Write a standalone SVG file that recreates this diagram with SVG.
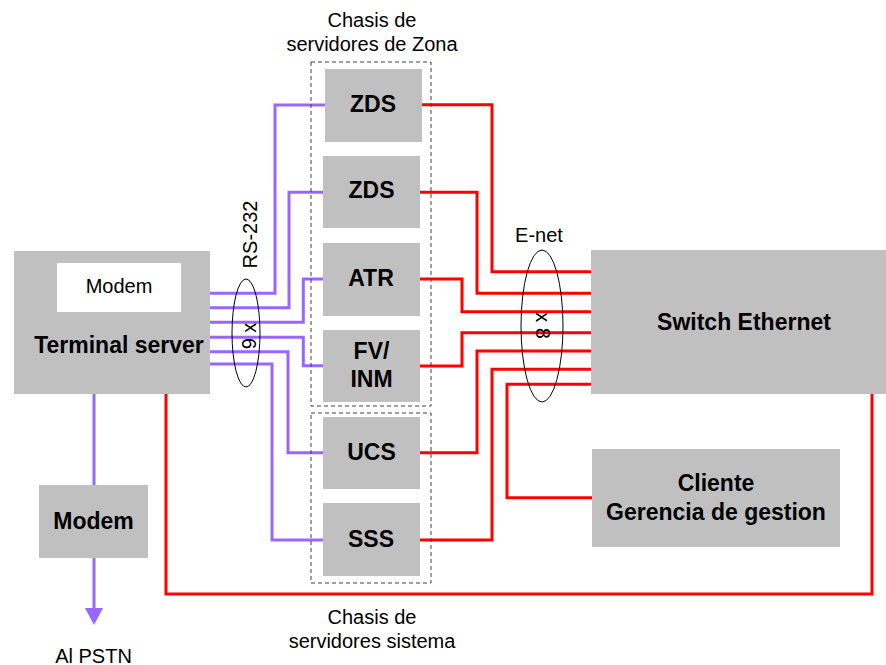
<svg xmlns="http://www.w3.org/2000/svg" width="886" height="665" viewBox="0 0 886 665">
<style>
.box{fill:#c0c0c0;stroke:none}
.chassis{fill:none;stroke:#404040;stroke-width:1;stroke-dasharray:4 3}
.p{fill:none;stroke:#9966ff;stroke-width:3}
.r{fill:none;stroke:#ff0000;stroke-width:3}
.ell{fill:none;stroke:#000;stroke-width:1}
.t{font-family:"Liberation Sans",Arial,sans-serif;font-size:20px;fill:#000;text-anchor:middle}
.b{font-family:"Liberation Sans",Arial,sans-serif;font-size:23px;font-weight:bold;fill:#000;text-anchor:middle}
</style>
<rect width="886" height="665" fill="#fff"/>
<g id="connectors">
<path class="p" d="M210,293.3 H275 V105 H325"/>
<path class="p" d="M210,307.7 H289 V192.3 H323"/>
<path class="p" d="M210,322.3 H303.3 V279 H323"/>
<path class="p" d="M210,337.3 H303.3 V365.7 H323"/>
<path class="p" d="M210,351.7 H288 V452.7 H323"/>
<path class="p" d="M210,364 H272 V540 H323"/>
<path class="p" d="M94,394 V485"/>
<path class="p" d="M94,558 V609"/>
<polygon points="85,608 103,608 94,625" fill="#9966ff"/>
<path class="r" d="M421,104.7 H492 V271.7 H592"/>
<path class="r" d="M420,192.3 H477 V293.3 H592"/>
<path class="r" d="M420,279 H462 V311.7 H592"/>
<path class="r" d="M420,366 H462 V332.7 H592"/>
<path class="r" d="M420,452.7 H477 V351 H592"/>
<path class="r" d="M420,540 H492 V369.3 H592"/>
<path class="r" d="M592,497.7 H507 V384.3 H592"/>
<path class="r" d="M166,394 V594 H872 V394"/>
<ellipse class="ell" cx="246" cy="333" rx="14" ry="54"/>
<ellipse class="ell" cx="542" cy="326" rx="21" ry="76"/>
<text class="t" transform="translate(257,234.5) rotate(-90)">RS-232</text>
<text class="t" transform="translate(256,336) rotate(-90)">9 x</text>
<text class="t" transform="translate(536,325.5) rotate(90)">x 8</text>
<text class="t" x="539" y="241.5">E-net</text>
</g>
<g id="terminal-server">
<rect class="box" x="14" y="251" width="196" height="143"/>
<rect x="57" y="263" width="124" height="49" fill="#fff"/>
<text class="t" x="119" y="293.3">Modem</text>
<text class="b" x="119" y="353.3">Terminal server</text>
</g>
<g id="modem">
<rect class="box" x="39" y="485" width="109" height="73"/>
<text class="b" x="93.5" y="529">Modem</text>
</g>
<g id="pstn">
<text class="t" x="93.5" y="662.5">Al PSTN</text>
</g>
<g id="chasis-zona">
<rect class="chassis" x="311" y="62" width="120" height="344"/>
<text class="t" x="372" y="26.5">Chasis de</text>
<text class="t" x="372" y="50.5">servidores de Zona</text>
</g>
<g id="chasis-sistema">
<rect class="chassis" x="311" y="413" width="120" height="170"/>
<text class="t" x="372" y="623.5">Chasis de</text>
<text class="t" x="372" y="648.3">servidores sistema</text>
</g>
<g id="zds1">
<rect class="box" x="325" y="69" width="97" height="73"/>
<text class="b" x="373" y="111.5">ZDS</text>
</g>
<g id="zds2">
<rect class="box" x="323" y="156" width="97" height="72"/>
<text class="b" x="371.5" y="198">ZDS</text>
</g>
<g id="atr">
<rect class="box" x="323" y="243" width="97" height="73"/>
<text class="b" x="371" y="285.5">ATR</text>
</g>
<g id="fv-inm">
<rect class="box" x="323" y="330" width="97" height="72"/>
<text class="b" x="371.5" y="359.3">FV/</text>
<text class="b" x="371.5" y="386.7">INM</text>
</g>
<g id="ucs">
<rect class="box" x="323" y="417" width="97" height="72"/>
<text class="b" x="371.5" y="460">UCS</text>
</g>
<g id="sss">
<rect class="box" x="323" y="503" width="97" height="73"/>
<text class="b" x="371" y="547">SSS</text>
</g>
<g id="switch-ethernet">
<rect class="box" x="591" y="250" width="300" height="144"/>
<text class="b" x="744" y="330">Switch Ethernet</text>
</g>
<g id="cliente">
<rect class="box" x="592" y="449" width="248" height="98"/>
<text class="b" x="716" y="491">Cliente</text>
<text class="b" x="716" y="519.5">Gerencia de gestion</text>
</g>
</svg>
